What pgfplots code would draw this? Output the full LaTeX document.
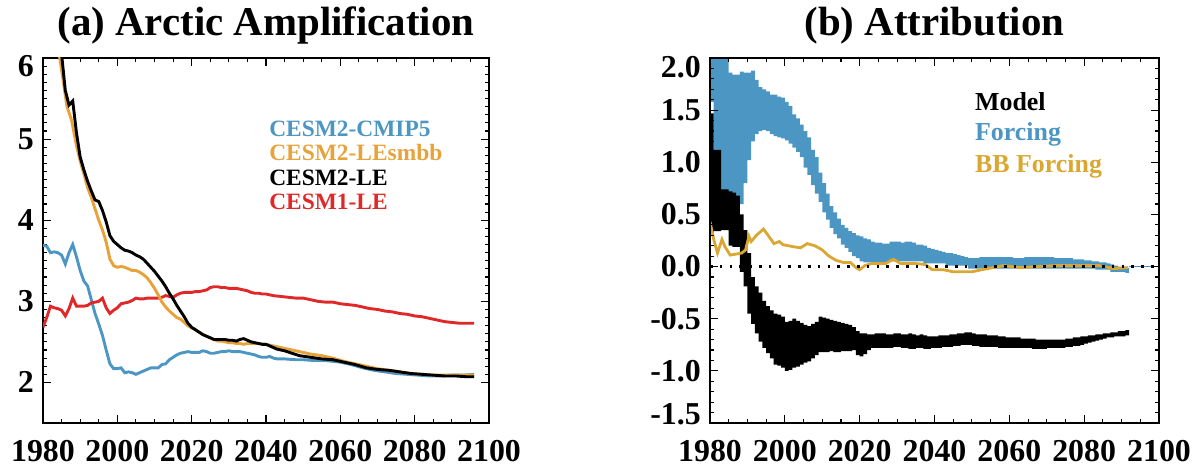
\documentclass[border=0pt]{standalone}
\usepackage{fontspec}
\setmainfont{Liberation Serif}
\usepackage{pgfplots}
\pgfplotsset{compat=1.18}
\definecolor{cblue}{RGB}{76,150,195}
\definecolor{corange}{RGB}{232,162,58}
\definecolor{cred}{RGB}{224,40,40}
\definecolor{cgold}{RGB}{218,168,50}

\pgfplotsset{
  common/.style={
    scale only axis, anchor=south west,
    xmin=1980, xmax=2100,
    xtick={1980,2000,2020,2040,2060,2080,2100},
    xticklabels={1980,2000,2020,2040,2060,2080,2100},
    minor x tick num=3,
    tick align=inside, tick pos=both,
    major tick length=8bp, minor tick length=4bp,
    axis line style={line width=1.6bp},
    every tick/.style={line width=1.1bp, black},
    every minor tick/.style={line width=1.1bp, black},
    ticklabel style={font=\fontsize{32}{32}\selectfont\bfseries, inner sep=0pt},
    xticklabel style={yshift=-17bp},
    yticklabel style={xshift=-9bp},
    title style={font=\fontsize{41}{41}\selectfont\bfseries, anchor=base, yshift=17bp, inner sep=0pt},
    clip mode=individual,
  }
}

\begin{document}
\begin{tikzpicture}
\path[use as bounding box] (0,0) rectangle (1194bp,467bp);
% ---------------- (a) ----------------
\begin{axis}[common,
  at={(43bp,44bp)}, width=446bp, height=365bp,
  ymin=1.5, ymax=6,
  ytick={2,3,4,5,6},
  yticklabels={2,3,4,5,\raisebox{-8bp}[21bp][0pt]{6}},
  minor y tick num=9,
  title={(a) Arctic Amplification},
]
\addplot[cblue, line width=2.9bp] coordinates {
(1980,3.69)(1981,3.68)(1982,3.60)(1983,3.61)(1984,3.60)(1985,3.57)(1986,3.46)(1987,3.60)(1988,3.70)(1989,3.55)(1990,3.38)(1991,3.25)(1992,3.19)(1993,3.02)(1994,2.85)(1995,2.72)(1996,2.58)(1997,2.40)(1998,2.23)(1999,2.17)(2000,2.17)(2001,2.18)(2002,2.12)(2003,2.13)(2004,2.12)(2005,2.10)(2006,2.12)(2007,2.14)(2008,2.16)(2009,2.18)(2010,2.18)(2011,2.18)(2012,2.22)(2013,2.23)(2014,2.28)(2015,2.31)(2016,2.34)(2017,2.36)(2018,2.37)(2019,2.38)(2020,2.37)(2021,2.37)(2022,2.37)(2023,2.39)(2024,2.38)(2025,2.36)(2026,2.36)(2027,2.37)(2028,2.38)(2029,2.38)(2030,2.39)(2031,2.38)(2032,2.38)(2033,2.38)(2034,2.37)(2035,2.36)(2036,2.35)(2037,2.34)(2038,2.32)(2039,2.31)(2040,2.31)(2041,2.32)(2042,2.30)(2043,2.29)(2045,2.29)(2048,2.28)(2050,2.28)(2053,2.27)(2056,2.27)(2058,2.26)(2060,2.25)(2063,2.22)(2066,2.18)(2069,2.15)(2072,2.13)(2075,2.11)(2078,2.10)(2081,2.09)(2084,2.08)(2087,2.08)(2090,2.09)(2093,2.09)(2096,2.10)};
\addplot[cred, line width=2.9bp] coordinates {
(1980,2.68)(1981,2.80)(1982,2.94)(1983,2.92)(1984,2.91)(1985,2.89)(1986,2.82)(1987,2.91)(1988,3.04)(1989,2.94)(1990,2.94)(1991,2.94)(1992,2.95)(1993,2.98)(1994,2.99)(1995,3.00)(1996,3.04)(1997,2.92)(1998,2.85)(1999,2.89)(2000,2.92)(2001,2.97)(2002,2.98)(2003,2.99)(2004,3.01)(2005,3.04)(2006,3.03)(2007,3.03)(2008,3.04)(2009,3.04)(2010,3.04)(2011,3.04)(2012,3.05)(2013,3.07)(2014,3.06)(2015,3.05)(2016,3.08)(2017,3.10)(2018,3.11)(2019,3.11)(2020,3.11)(2021,3.12)(2022,3.12)(2023,3.13)(2024,3.14)(2025,3.17)(2026,3.18)(2027,3.18)(2028,3.17)(2029,3.17)(2030,3.16)(2031,3.16)(2032,3.16)(2033,3.15)(2034,3.14)(2035,3.13)(2036,3.11)(2037,3.10)(2038,3.10)(2039,3.09)(2040,3.09)(2042,3.07)(2044,3.06)(2046,3.05)(2048,3.04)(2050,3.04)(2052,3.02)(2054,3.00)(2056,2.99)(2058,2.99)(2060,2.97)(2062,2.96)(2064,2.95)(2066,2.93)(2068,2.91)(2070,2.90)(2072,2.88)(2074,2.87)(2076,2.85)(2078,2.84)(2080,2.82)(2082,2.81)(2084,2.79)(2086,2.77)(2088,2.75)(2090,2.74)(2092,2.73)(2094,2.73)(2096,2.73)};
\addplot[corange, line width=2.9bp] coordinates {
(1983.5,6.6)(1984.4,6.03)(1985.5,5.70)(1986.4,5.41)(1987.7,5.23)(1989,4.92)(1990,4.73)(1991,4.57)(1992,4.40)(1993,4.28)(1994,4.14)(1995,4.00)(1996,3.88)(1997,3.73)(1998,3.52)(1999,3.44)(2000,3.42)(2001,3.43)(2002,3.42)(2003,3.40)(2004,3.38)(2005,3.38)(2006,3.36)(2007,3.33)(2008,3.29)(2009,3.23)(2010,3.16)(2011,3.08)(2012,2.99)(2013,2.93)(2014,2.88)(2015,2.84)(2016,2.80)(2017,2.78)(2018,2.74)(2019,2.70)(2020,2.67)(2021,2.65)(2022,2.62)(2023,2.59)(2024,2.57)(2025,2.55)(2026,2.53)(2027,2.51)(2028,2.51)(2029,2.50)(2030,2.49)(2031,2.49)(2032,2.48)(2033,2.48)(2034,2.47)(2035,2.48)(2036,2.48)(2038,2.48)(2040,2.47)(2042,2.45)(2044,2.43)(2046,2.41)(2049,2.38)(2052,2.35)(2055,2.33)(2058,2.30)(2061,2.26)(2064,2.23)(2067,2.20)(2070,2.17)(2073,2.15)(2076,2.13)(2079,2.11)(2082,2.10)(2085,2.09)(2088,2.09)(2091,2.09)(2094,2.09)(2096,2.09)};
\addplot[black, line width=2.9bp] coordinates {
(1984,6.5)(1985,6.05)(1986,5.6)(1987,5.42)(1988,5.47)(1989,5.08)(1990,4.78)(1991,4.62)(1992,4.48)(1993,4.36)(1994,4.25)(1995,4.23)(1996,4.12)(1997,3.98)(1998,3.81)(1999,3.74)(2000,3.70)(2001,3.66)(2002,3.63)(2003,3.62)(2004,3.60)(2005,3.57)(2006,3.55)(2007,3.52)(2008,3.47)(2009,3.42)(2010,3.37)(2011,3.31)(2012,3.25)(2013,3.18)(2014,3.10)(2015,3.03)(2016,2.95)(2017,2.88)(2018,2.81)(2019,2.73)(2020,2.68)(2021,2.65)(2022,2.62)(2023,2.59)(2024,2.57)(2025,2.55)(2026,2.53)(2027,2.53)(2028,2.53)(2029,2.53)(2030,2.52)(2031,2.52)(2032,2.51)(2033,2.53)(2034,2.54)(2035,2.52)(2036,2.50)(2037,2.49)(2038,2.48)(2039,2.47)(2040,2.47)(2041,2.45)(2042,2.43)(2043,2.41)(2045,2.39)(2047,2.36)(2049,2.33)(2052,2.31)(2055,2.29)(2058,2.28)(2061,2.25)(2064,2.22)(2067,2.18)(2070,2.16)(2073,2.15)(2076,2.13)(2079,2.11)(2082,2.10)(2085,2.09)(2088,2.08)(2091,2.08)(2094,2.07)(2096,2.07)};
\begin{scope}[every node/.style={anchor=base west, inner sep=0pt, font=\fontsize{23.5}{23.5}\selectfont\bfseries}]
\node[text=cblue] at (rel axis cs:0.507,0.784) {CESM2-CMIP5};
\node[text=corange] at (rel axis cs:0.507,0.718) {CESM2-LEsmbb};
\node[text=black] at (rel axis cs:0.507,0.651) {CESM2-LE};
\node[text=cred] at (rel axis cs:0.507,0.585) {CESM1-LE};
\end{scope}
\end{axis}
% ---------------- (b) ----------------
\begin{axis}[common,
  at={(710bp,44bp)}, width=449bp, height=365bp,
  ymin=-1.5, ymax=2.0,
  ytick={-1.5,-1,-0.5,0,0.5,1,1.5,2},
  yticklabels={\raisebox{9bp}[21bp][0pt]{-1.5},-1.0,-0.5,0.0,0.5,1.0,1.5,\raisebox{-9bp}[21bp][0pt]{2.0}},
  minor y tick num=4,
  title={(b) Attribution},
  axis on top,
]
% Forcing band: upper edge forward, lower edge backward
\addplot[fill=cblue, draw=none, const plot] coordinates {
(1980,2.10)(1985,1.86)(1986,1.84)(1988,1.87)(1989,1.86)(1991,1.88)(1992,1.79)(1993,1.72)(1994,1.70)(1995,1.68)(1996,1.65)(1998,1.63)(1999,1.62)(2000,1.58)(2001,1.54)(2002,1.46)(2003,1.42)(2004,1.36)(2005,1.30)(2006,1.24)(2007,1.12)(2008,1.05)(2009,0.90)(2010,0.80)(2011,0.70)(2012,0.58)(2013,0.52)(2014,0.46)(2015,0.40)(2016,0.37)(2017,0.34)(2018,0.32)(2019,0.30)(2020,0.29)(2021,0.27)(2022,0.26)(2023,0.24)(2024,0.23)(2026,0.22)(2028,0.24)(2031,0.23)(2032,0.24)(2034,0.23)(2035,0.21)(2037,0.20)(2038,0.18)(2039,0.17)(2040,0.16)(2041,0.15)(2042,0.14)(2043,0.13)(2045,0.12)(2046,0.11)(2047,0.10)(2048,0.09)(2049,0.08)(2052,0.09)(2061,0.08)(2064,0.09)(2072,0.08)(2077,0.07)(2080,0.06)(2082,0.05)(2084,0.04)(2086,0.03)(2087,0.02)(2088,0.01)(2089,0.00)(2091,-0.01)(2092,-0.01)
(2092,-0.06)(2091,-0.05)(2087,-0.03)(2083,-0.02)(2049,0.01)(2043,0.03)(2037,0.05)(2028,0.04)(2021,0.05)(2020,0.08)(2019,0.10)(2018,0.14)(2017,0.18)(2016,0.21)(2015,0.27)(2014,0.31)(2013,0.37)(2012,0.45)(2011,0.52)(2010,0.62)(2009,0.70)(2008,0.78)(2007,0.88)(2006,0.95)(2005,1.05)(2004,1.10)(2003,1.14)(2002,1.18)(2001,1.21)(2000,1.23)(1999,1.24)(1998,1.25)(1997,1.27)(1996,1.30)(1995,1.31)(1994,1.30)(1993,1.27)(1992,1.20)(1991,1.02)(1990,0.80)(1989,0.60)(1981,1.58)(1980,1.58)} -- cycle;
% Model band
\addplot[fill=black, draw=none, const plot] coordinates {
(1980,1.47)(1981,1.12)(1983,0.74)(1985,0.72)(1986,0.71)(1987,0.68)(1988,0.50)(1989,0.35)(1990,0.13)(1991,-0.10)(1992,-0.19)(1993,-0.25)(1994,-0.33)(1995,-0.38)(1996,-0.42)(1997,-0.45)(1998,-0.46)(1999,-0.48)(2000,-0.53)(2001,-0.52)(2002,-0.50)(2003,-0.52)(2004,-0.54)(2005,-0.56)(2006,-0.57)(2007,-0.55)(2008,-0.53)(2009,-0.48)(2010,-0.49)(2011,-0.50)(2012,-0.51)(2013,-0.52)(2014,-0.53)(2015,-0.54)(2016,-0.55)(2017,-0.56)(2018,-0.58)(2019,-0.62)(2020,-0.64)(2022,-0.65)(2024,-0.64)(2027,-0.65)(2029,-0.64)(2031,-0.65)(2033,-0.64)(2034,-0.65)(2035,-0.66)(2036,-0.65)(2037,-0.66)(2038,-0.67)(2041,-0.66)(2044,-0.65)(2046,-0.64)(2048,-0.63)(2050,-0.64)(2051,-0.65)(2054,-0.66)(2057,-0.67)(2059,-0.68)(2063,-0.69)(2067,-0.70)(2075,-0.69)(2077,-0.68)(2079,-0.67)(2081,-0.66)(2083,-0.65)(2085,-0.64)(2087,-0.63)(2089,-0.62)(2091,-0.61)(2092,-0.61)
(2092,-0.66)(2091,-0.67)(2088,-0.68)(2086,-0.69)(2085,-0.70)(2084,-0.71)(2083,-0.72)(2082,-0.73)(2081,-0.74)(2080,-0.75)(2079,-0.76)(2077,-0.77)(2075,-0.78)(2070,-0.79)(2066,-0.78)(2057,-0.77)(2052,-0.76)(2050,-0.75)(2047,-0.76)(2045,-0.77)(2042,-0.78)(2039,-0.79)(2037,-0.78)(2035,-0.79)(2033,-0.78)(2031,-0.77)(2029,-0.78)(2023,-0.80)(2022,-0.84)(2021,-0.86)(2020,-0.85)(2019,-0.80)(2018,-0.81)(2015,-0.82)(2013,-0.81)(2012,-0.82)(2009,-0.85)(2008,-0.88)(2007,-0.91)(2006,-0.92)(2005,-0.94)(2004,-0.96)(2003,-0.97)(2002,-0.99)(2001,-1.00)(2000,-0.97)(1999,-0.95)(1998,-0.94)(1997,-0.88)(1996,-0.83)(1995,-0.78)(1994,-0.72)(1993,-0.64)(1992,-0.55)(1991,-0.45)(1990,-0.19)(1989,-0.05)(1988,0.19)(1986,0.20)(1985,0.35)(1983,0.34)(1981,0.32)(1980,0.32)} -- cycle;
\addplot[cblue, line width=1.5bp] coordinates {(2092,0)(2100,0)};
\addplot[cgold, line width=2.8bp] coordinates {
(1980,0.43)(1981,0.26)(1982,0.13)(1983.2,0.26)(1984,0.19)(1985.4,0.11)(1987,0.12)(1988.5,0.13)(1989.5,0.16)(1990.4,0.29)(1991,0.24)(1992.4,0.30)(1994.3,0.36)(1995.7,0.29)(1997.1,0.22)(1998.5,0.24)(1999.5,0.21)(2002.3,0.19)(2004.2,0.18)(2006,0.22)(2008,0.20)(2010,0.16)(2011.8,0.10)(2013.7,0.06)(2015.6,0.04)(2017.5,0.04)(2019,-0.01)(2020,-0.03)(2021.4,0.01)(2023.3,0.03)(2027,0.03)(2029,0.07)(2030.9,0.03)(2034.7,0.03)(2037.5,0.02)(2039.4,-0.03)(2042.3,-0.03)(2045,-0.05)(2050,-0.05)(2052.7,-0.03)(2055.6,-0.01)(2058.4,0.01)(2063,-0.01)(2067,0.0)(2072.7,0.01)(2078.4,0.01)(2084,0.01)(2088,-0.02)(2091.7,-0.01)};
\addplot[black, line width=2.6bp, dash pattern=on 2.6bp off 7.2bp] coordinates {(1980,0)(2100,0)};
\begin{scope}[every node/.style={anchor=base west, inner sep=0pt, font=\fontsize{26}{26}\selectfont\bfseries}]
\node[text=black] at (rel axis cs:0.59,0.856) {Model};
\node[text=cblue] at (rel axis cs:0.59,0.773) {Forcing};
\node[text=cgold] at (rel axis cs:0.59,0.686) {BB Forcing};
\end{scope}
\end{axis}
\end{tikzpicture}
\end{document}
